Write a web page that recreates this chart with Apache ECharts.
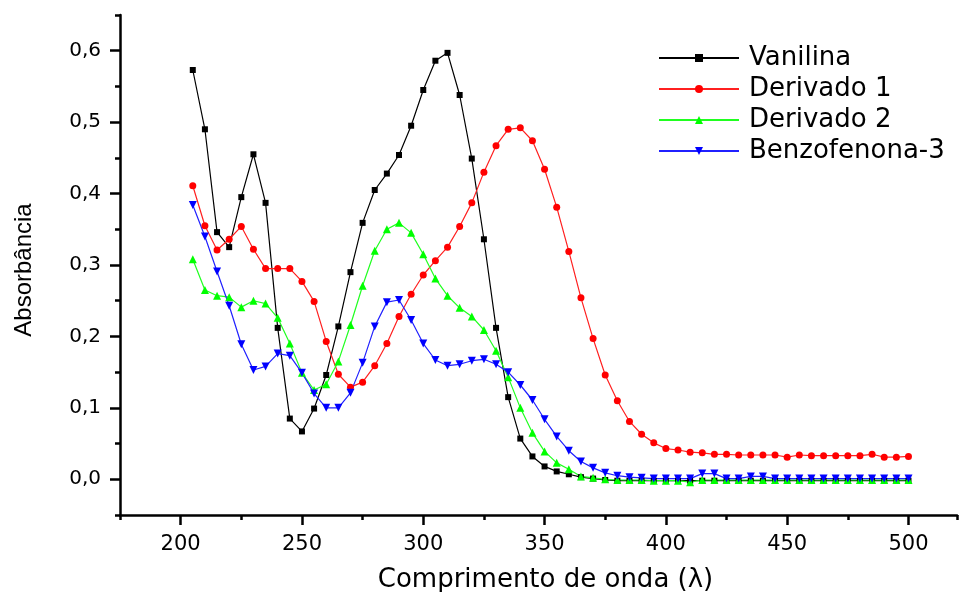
<!DOCTYPE html>
<html>
<head>
<meta charset="utf-8">
<script src="https://cdn.jsdelivr.net/npm/echarts@6/dist/echarts.min.js"></script>
<style>
  html, body { margin: 0; padding: 0; background: #fff; }
  #main { width: 961px; height: 592px; }
</style>
</head>
<body>
<div id="main"></div>
<script>
// wavelength, nm (205..500 every 5)
var wavelengths = [];
for (var w = 205; w <= 500; w += 5) wavelengths.push(w);

var seriesNames = ['Vanilina', 'Derivado 1', 'Derivado 2', 'Benzofenona-3'];

var vanilina = [
  0.573, 0.490, 0.346, 0.325, 0.395, 0.455, 0.387, 0.212, 0.085, 0.067,
  0.099, 0.146, 0.214, 0.290, 0.359, 0.405, 0.428, 0.454, 0.495, 0.545,
  0.586, 0.597, 0.538, 0.449, 0.336, 0.212, 0.115, 0.057, 0.032, 0.018,
  0.011, 0.007, 0.003, 0.001, -0.001, -0.002, -0.002, -0.002, -0.002, -0.002,
  -0.002, -0.002, -0.002, -0.002, -0.002, -0.002, -0.002, -0.002, -0.002, -0.002,
  -0.002, -0.002, -0.002, -0.002, -0.002, -0.002, -0.002, -0.002, -0.002, -0.002
];
var derivado1 = [
  0.411, 0.355, 0.321, 0.336, 0.354, 0.322, 0.295, 0.295, 0.295, 0.277,
  0.249, 0.193, 0.147, 0.129, 0.136, 0.159, 0.190, 0.228, 0.259, 0.286,
  0.306, 0.325, 0.354, 0.387, 0.430, 0.467, 0.490, 0.492, 0.474, 0.434,
  0.381, 0.319, 0.254, 0.197, 0.146, 0.110, 0.081, 0.063, 0.051, 0.043,
  0.041, 0.038, 0.037, 0.035, 0.035, 0.034, 0.034, 0.034, 0.034, 0.031,
  0.034, 0.033, 0.033, 0.033, 0.033, 0.033, 0.035, 0.031, 0.031, 0.032
];
var derivado2 = [
  0.308, 0.265, 0.257, 0.255, 0.241, 0.250, 0.246, 0.226, 0.190, 0.149,
  0.125, 0.133, 0.165, 0.216, 0.271, 0.320, 0.350, 0.359, 0.345, 0.315,
  0.281, 0.257, 0.240, 0.228, 0.209, 0.180, 0.143, 0.100, 0.065, 0.039,
  0.023, 0.014, 0.004, 0.002, 0.000, -0.001, -0.001, -0.001, -0.002, -0.002,
  -0.002, -0.004, -0.001, -0.001, -0.001, -0.001, -0.001, -0.001, -0.001, -0.001,
  -0.001, -0.001, -0.001, -0.001, -0.001, -0.001, -0.001, -0.001, -0.001, -0.001
];
var benzofenona3 = [
  0.384, 0.340, 0.291, 0.243, 0.189, 0.153, 0.158, 0.176, 0.173, 0.149,
  0.120, 0.100, 0.100, 0.121, 0.163, 0.214, 0.248, 0.251, 0.223, 0.190,
  0.167, 0.159, 0.161, 0.166, 0.168, 0.161, 0.150, 0.132, 0.111, 0.084,
  0.060, 0.040, 0.025, 0.016, 0.009, 0.005, 0.003, 0.002, 0.001, 0.001,
  0.001, 0.001, 0.008, 0.008, 0.001, 0.001, 0.004, 0.004, 0.001, 0.001,
  0.001, 0.001, 0.001, 0.001, 0.001, 0.001, 0.001, 0.001, 0.001, 0.001
];

var xMajorTicks = [200, 250, 300, 350, 400, 450, 500];
var xMinorTicks = [175, 225, 275, 325, 375, 425, 475, 520];
var yMajorTicks = [0, 0.1, 0.2, 0.3, 0.4, 0.5, 0.6];
var yMinorTicks = [-0.05, 0.05, 0.15, 0.25, 0.35, 0.45, 0.55, 0.65];

function pairs(values) {
  return wavelengths.map(function (w, i) { return [w, values[i]]; });
}

var chartDom = document.getElementById('main');
var myChart = echarts.init(chartDom, null, { renderer: 'canvas' });
var font = 'Liberation Sans, Arial, sans-serif';
var wide = 'DejaVu Sans, sans-serif';
var tickStyle = { color: '#000', width: 2.5 };

var option = {
  animation: false,
  backgroundColor: '#fff',
  grid: { left: 120, top: 15, right: 4, bottom: 77, containLabel: false, outerBoundsMode: 'none' },
  legend: {
    orient: 'vertical',
    left: 658,
    top: 45,
    padding: 0,
    itemWidth: 80,
    itemHeight: 10,
    itemGap: 5,
    textStyle: { fontFamily: wide, fontSize: 26, color: '#000', lineHeight: 26, padding: [0, 0, 0, 5] },
    data: seriesNames
  },
  xAxis: [{
    type: 'value', min: 175, max: 520,
    name: 'Comprimento de onda (\u03bb)', nameLocation: 'middle', nameGap: 52,
    nameTextStyle: { fontFamily: wide, fontSize: 26, color: '#000', padding: [0, 0, 0, 14] },
    axisLine: { show: true, onZero: false, lineStyle: tickStyle },
    axisTick: { show: true, customValues: xMajorTicks, length: 10, lineStyle: tickStyle },
    axisLabel: { customValues: xMajorTicks, margin: 19, fontFamily: wide, fontSize: 21, color: '#000' },
    splitLine: { show: false }
  }, {
    type: 'value', min: 175, max: 520, position: 'bottom',
    axisLine: { show: false, onZero: false },
    axisTick: { show: true, customValues: xMinorTicks, length: 5, lineStyle: tickStyle },
    axisLabel: { show: false },
    splitLine: { show: false }
  }],
  yAxis: [{
    type: 'value', min: -0.05, max: 0.65,
    name: 'Absorb\u00e2ncia', nameLocation: 'middle', nameGap: 84, nameRotate: 90,
    nameTextStyle: { fontFamily: font, fontSize: 24, color: '#000', padding: [0, 10, 0, 0] },
    axisLine: { show: true, onZero: false, lineStyle: tickStyle },
    axisTick: { show: true, customValues: yMajorTicks, length: 10, lineStyle: tickStyle },
    axisLabel: {
      customValues: yMajorTicks, margin: 19, fontFamily: wide, fontSize: 20, color: '#000',
      formatter: function (v) { return v.toFixed(1).replace('.', ','); }
    },
    splitLine: { show: false }
  }, {
    type: 'value', min: -0.05, max: 0.65, position: 'left',
    axisLine: { show: false, onZero: false },
    axisTick: { show: true, customValues: yMinorTicks, length: 5, lineStyle: tickStyle },
    axisLabel: { show: false },
    splitLine: { show: false }
  }],
  series: [
    {
      name: seriesNames[0], type: 'line', data: pairs(vanilina),
      symbol: 'rect', symbolSize: 6,
      itemStyle: { color: '#000' }, lineStyle: { color: '#000', width: 1.2 }
    },
    {
      name: seriesNames[1], type: 'line', data: pairs(derivado1),
      symbol: 'circle', symbolSize: 7,
      itemStyle: { color: '#ff0000' }, lineStyle: { color: '#ff2020', width: 1.2 }
    },
    {
      name: seriesNames[2], type: 'line', data: pairs(derivado2),
      symbol: 'triangle', symbolSize: 8,
      itemStyle: { color: '#00ff00' }, lineStyle: { color: '#20ff20', width: 1.2 }
    },
    {
      name: seriesNames[3], type: 'line', data: pairs(benzofenona3),
      symbol: 'triangle', symbolSize: 8, symbolRotate: 180,
      itemStyle: { color: '#0000ff' }, lineStyle: { color: '#2020ff', width: 1.2 }
    }
  ]
};

option && myChart.setOption(option);
</script>
</body>
</html>
